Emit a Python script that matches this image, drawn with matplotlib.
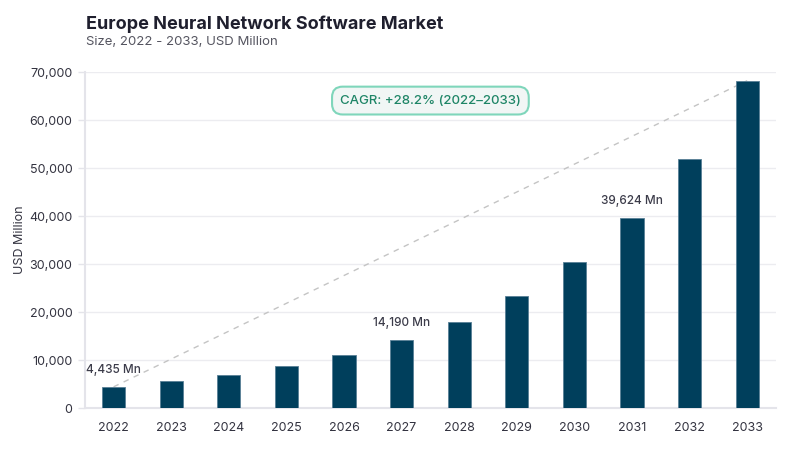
import numpy as np
import matplotlib.pyplot as plt
from matplotlib.ticker import FuncFormatter

plt.rcParams['font.family'] = ['Inter', 'DejaVu Sans']

# data
years = ['2022', '2023', '2024', '2025', '2026', '2027',
         '2028', '2029', '2030', '2031', '2032', '2033']
values = [4435, 5560, 6960, 8750, 11110, 14190,
          18000, 23380, 30380, 39624, 51850, 68200]
labeled = {'2022': '4,435 Mn', '2027': '14,190 Mn', '2031': '39,624 Mn'}
cagr_text = 'CAGR: +28.2% (2022–2033)'

fig = plt.figure(figsize=(8, 4.5), dpi=100)
ax = fig.add_axes([0.106, 0.093, 0.864, 0.747])

x = np.arange(len(years))
ax.bar(x, values, width=0.4, color='#003f5c', edgecolor='#587f96', linewidth=0.6, zorder=3)

# dashed trend line first to last
ax.plot([x[0], x[-1]], [values[0], values[-1]], ls=(0, (4, 4)), color='#c4c4c4',
        lw=1, zorder=2)

for i, y in enumerate(years):
    if y in labeled:
        ax.annotate(labeled[y], (x[i], values[i]), xytext=(0, 8), textcoords='offset points',
                    ha='center', va='bottom', fontsize=8.5, color='#3c3c4a',
                    fontweight='medium', zorder=4)

ax.set_xlim(-0.5, len(years) - 0.5)
ax.set_ylim(0, 70000)
ax.set_yticks(np.arange(0, 70001, 10000))
ax.yaxis.set_major_formatter(FuncFormatter(lambda v, p: f'{int(v):,}'))
ax.set_xticks(x)
ax.set_xticklabels(years)
ax.tick_params(axis='x', length=0, pad=10, labelsize=9, labelcolor='#333340')
ax.tick_params(axis='y', length=5, color='#e4e4ea', width=1, pad=4, labelsize=9,
               labelcolor='#333340')
ax.grid(axis='y', color='#ececf0', lw=1, zorder=0)
for s in ['top', 'right']:
    ax.spines[s].set_visible(False)
ax.spines['left'].set_color('#e4e4ea')
ax.spines['left'].set_linewidth(1.5)
ax.spines['bottom'].set_color('#e4e4ea')
ax.spines['bottom'].set_linewidth(1.5)
ax.set_ylabel('USD Million', fontsize=9, color='#333340', labelpad=2)

ax.text(0.5, 0.915, cagr_text, transform=ax.transAxes, ha='center', va='center',
        fontsize=9.5, color='#1e8566', fontweight='medium', zorder=5,
        bbox=dict(boxstyle='round,pad=0.6,rounding_size=0.8', fc='#f1f6f5',
                  ec='#7fd6bb', lw=1.5))

fig.text(0.107, 0.947, 'Europe Neural Network Software Market', fontsize=13,
         fontweight='bold', color='#1f1f2e', va='center')
fig.text(0.107, 0.906, 'Size, 2022 - 2033, USD Million', fontsize=9.5,
         color='#555560', va='center')

fig.savefig('out.png', dpi=100)
